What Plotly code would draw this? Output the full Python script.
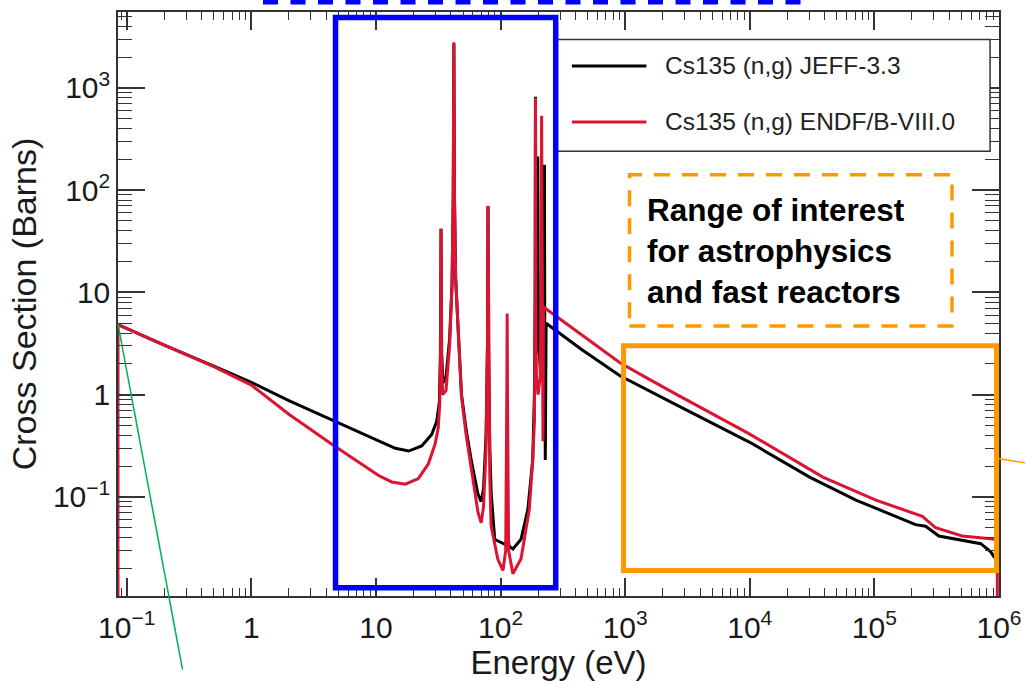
import plotly.graph_objects as go

# ---------------- data ----------------
series_names = ["Cs135 (n,g) JEFF-3.3", "Cs135 (n,g) ENDF/B-VIII.0"]

energy_jeff = [0.0851, 0.2, 0.5, 1.0, 2.0, 4.43, 10.5, 14.3, 18.3, 23.3, 28.0, 30.7,
               32.3, 32.9, 33.3, 33.7, 34.5, 36.5, 39.0, 40.8, 41.7, 42.2, 42.7, 43.6,
               45.7, 48.6, 53.0, 58.3, 65.7, 69.9, 73.0, 76.5, 78.5, 79.3, 80.1, 82.0,
               84.1, 89.8, 101, 110, 114, 117, 125.6, 146, 165.5, 181, 187, 189.5,
               190.6, 191.7, 194, 197, 199, 201, 210, 220, 225, 226.5, 228.5, 232,
               450, 908, 1500, 2600, 1.0e4, 3.02e4, 7.11e4, 2.14e5, 2.576e5, 3.29e5,
               7.14e5, 8.59e5, 9.12e5, 9.7e5]
xs_jeff = [4.83, 3.05, 1.90, 1.32, 0.875, 0.567, 0.351, 0.299, 0.281, 0.315, 0.407, 0.546,
           0.85, 2.5, 42, 2.5, 1.3, 1.5, 3.5, 12, 80, 2700, 80, 14,
           4.3, 1.0, 0.45, 0.225, 0.108, 0.090, 0.12, 0.4, 3, 70, 3, 0.3,
           0.108, 0.0385, 0.0358, 0.034, 0.045, 0.033, 0.031, 0.0385, 0.075, 0.226, 1.0, 10,
           820, 10, 2.5, 4, 213, 4, 1.5, 3, 177, 2, 0.23, 5.0,
           2.75, 1.53, 1.11, 0.79, 0.342, 0.156, 0.0931, 0.0536, 0.0517, 0.0415,
           0.0349, 0.029, 0.026, 0.024]

energy_endf = [0.0851, 0.0851, 0.2, 0.5, 1.0, 2.0, 4.43, 10.5, 13.4, 17.2, 21.9, 26.3,
               29.8, 31.6, 32.5, 33.0, 33.3, 33.6, 34.3, 36.5, 39.0, 40.8, 41.7, 42.2,
               42.7, 43.6, 45.7, 48.6, 53.0, 58.0, 62.0, 66.0, 69.9, 73.0, 76.5, 78.5,
               79.3, 80.1, 82.0, 84.0, 95.0, 104.5, 110, 112.3, 113, 113.7, 116, 125.6,
               146, 170, 181, 187, 189.5, 190.6, 191.7, 194, 200, 208, 212, 213.5,
               215, 217, 219, 221, 450, 908, 1500, 2600, 1.0e4, 3.86e4, 1.028e5, 2.425e5,
               3.1e5, 5.06e5, 9.33e5, 9.7e5, 9.7e5]
xs_endf = [0.004, 4.83, 3.05, 1.88, 1.24, 0.643, 0.327, 0.162, 0.140, 0.133, 0.151, 0.21,
           0.327, 0.472, 0.8, 2.5, 42, 2.5, 1.0, 1.1, 3.0, 12, 90, 2800,
           90, 14, 4.3, 0.95, 0.40, 0.19, 0.108, 0.07, 0.0557, 0.08, 0.3, 3,
           70.5, 3, 0.15, 0.052, 0.0247, 0.0191, 0.03, 1, 6.2, 1, 0.03, 0.0177,
           0.0249, 0.075, 0.226, 0.55, 8, 800, 8, 1.5, 1.0, 1.5, 10, 535,
           10, 1.0, 0.35, 7.2, 3.84, 2.05, 1.45, 1.0, 0.411, 0.156, 0.0931, 0.0646,
           0.0499, 0.0415, 0.0385, 0.038, 0.004]

x_tick_vals = [0.1, 1, 10, 100, 1e3, 1e4, 1e5, 1e6]
x_tick_text = ["10<sup>\u22121</sup>", "1", "10", "10<sup>2</sup>", "10<sup>3</sup>",
               "10<sup>4</sup>", "10<sup>5</sup>", "10<sup>6</sup>"]
y_tick_vals = [0.1, 1, 10, 100, 1000]
y_tick_text = ["10<sup>\u22121</sup>", "1", "10", "10<sup>2</sup>", "10<sup>3</sup>"]

x_title = "Energy (eV)"
y_title = "Cross Section (Barns)"
note_text = "Range of interest<br>for astrophysics<br>and fast reactors"

# minor tick positions (2..9 in every decade)
x_minor = [m * 10 ** k for k in range(-2, 6) for m in range(2, 10) if 0.0851 < m * 10 ** k < 1e6]
y_minor = [m * 10 ** k for k in range(-2, 4) for m in range(2, 10) if 0.0107 < m * 10 ** k < 5500]

# ---------------- figure ----------------
W, H = 1032, 681
ML, MR, MT, MB = 118, 27, 10, 76
PW, PH = W - ML - MR, H - MT - MB


def px(x):
    return (x - ML) / PW


def py(y):
    return 1 - (y - MT) / PH


FONT = "Liberation Sans, Arial, Helvetica, sans-serif"
AXC = "#333333"
RED = "#DC1432"
BLUE = "#0000FF"
ORANGE = "#FF9900"

fig = go.Figure()
fig.add_trace(go.Scatter(x=energy_jeff, y=xs_jeff, mode="lines", name=series_names[0],
                         line=dict(color="#000000", width=3), showlegend=False))
fig.add_trace(go.Scatter(x=energy_endf, y=xs_endf, mode="lines", name=series_names[1],
                         line=dict(color=RED, width=3), showlegend=False))

axis_common = dict(type="log", showline=True, linecolor=AXC, linewidth=1.5, mirror="ticks",
                   ticks="inside", tickcolor=AXC, tickwidth=1.5, showgrid=False, zeroline=False,
                   tickfont=dict(family=FONT, size=30, color="#1a1a1a"), tickmode="array")

fig.update_xaxes(**axis_common, range=[-1.07, 6.0], tickvals=x_tick_vals, ticktext=x_tick_text,
                 ticklen=18, ticklabelstandoff=4,
                 minor=dict(tickvals=x_minor, ticks="inside", ticklen=8, tickwidth=1.2,
                            tickcolor=AXC),
                 title=dict(text=x_title, font=dict(family=FONT, size=33, color="#1a1a1a"),
                            standoff=4))
fig.update_yaxes(**axis_common, range=[-1.969, 3.742], tickvals=y_tick_vals, ticktext=y_tick_text,
                 ticklen=27,
                 minor=dict(tickvals=y_minor, ticks="inside", ticklen=14, tickwidth=1.2,
                            tickcolor=AXC),
                 title=dict(text=y_title, font=dict(family=FONT, size=34, color="#1a1a1a"),
                            standoff=6))

shapes = []
# legend box and samples
shapes.append(dict(type="rect", xref="paper", yref="paper", x0=px(557), x1=px(996),
                   y0=py(152), y1=py(38), line=dict(color=AXC, width=1.5), fillcolor="white",
                   layer="above"))
shapes.append(dict(type="line", xref="paper", yref="paper", x0=px(575), x1=px(650),
                   y0=py(65), y1=py(65), line=dict(color="#000000", width=3)))
shapes.append(dict(type="line", xref="paper", yref="paper", x0=px(575), x1=px(650),
                   y0=py(122), y1=py(122), line=dict(color=RED, width=3)))
# blue box around resolved resonance region
shapes.append(dict(type="rect", xref="paper", yref="paper", x0=px(337), x1=px(558.7),
                   y0=py(596.5), y1=py(15.5), line=dict(color=BLUE, width=5.5)))
# blue dashed line at the very top
shapes.append(dict(type="line", xref="paper", yref="paper", x0=px(264), x1=px(806),
                   y0=py(0), y1=py(0), line=dict(color=BLUE, width=4.5, dash="15px,12.5px")))
# orange solid box (fast region)
shapes.append(dict(type="rect", xref="paper", yref="paper", x0=px(627), x1=px(1002.5),
                   y0=py(579), y1=py(350), line=dict(color=ORANGE, width=5)))
# orange dashed text box
shapes.append(dict(type="rect", xref="paper", yref="paper", x0=px(633), x1=px(957.7),
                   y0=py(330), y1=py(175.7), line=dict(color=ORANGE, width=3.5, dash="16px,12px")))
# thin orange pointer at right
shapes.append(dict(type="line", xref="paper", yref="paper", x0=px(1004), x1=px(1031),
                   y0=py(465), y1=py(469.3), line=dict(color=ORANGE, width=1.5)))
# thin green pointer at left
shapes.append(dict(type="line", xref="paper", yref="paper", x0=px(118), x1=px(183),
                   y0=py(328), y1=py(680), line=dict(color="#00B050", width=1.5)))

annotations = [
    dict(xref="paper", yref="paper", x=px(667), y=py(65), xanchor="left", yanchor="middle",
         text=series_names[0], showarrow=False, font=dict(family=FONT, size=24.5, color="#222222")),
    dict(xref="paper", yref="paper", x=px(667), y=py(122), xanchor="left", yanchor="middle",
         text=series_names[1], showarrow=False, font=dict(family=FONT, size=24.5, color="#222222")),
    dict(xref="paper", yref="paper", x=px(649), y=py(253), xanchor="left", yanchor="middle",
         text=note_text, showarrow=False, align="left",
         font=dict(family=FONT, size=31.5, color="#000000", weight="bold")),
]

fig.update_layout(width=W, height=H, autosize=False,
                  margin=dict(l=ML, r=MR, t=MT, b=MB, pad=0),
                  paper_bgcolor="white", plot_bgcolor="white",
                  shapes=shapes, annotations=annotations, showlegend=False)

fig.write_html("out.html", config={"displayModeBar": False},
               post_script="document.body.style.margin='0';"
                           "document.body.style.overflow='hidden';"
                           "document.documentElement.style.overflow='hidden';")
